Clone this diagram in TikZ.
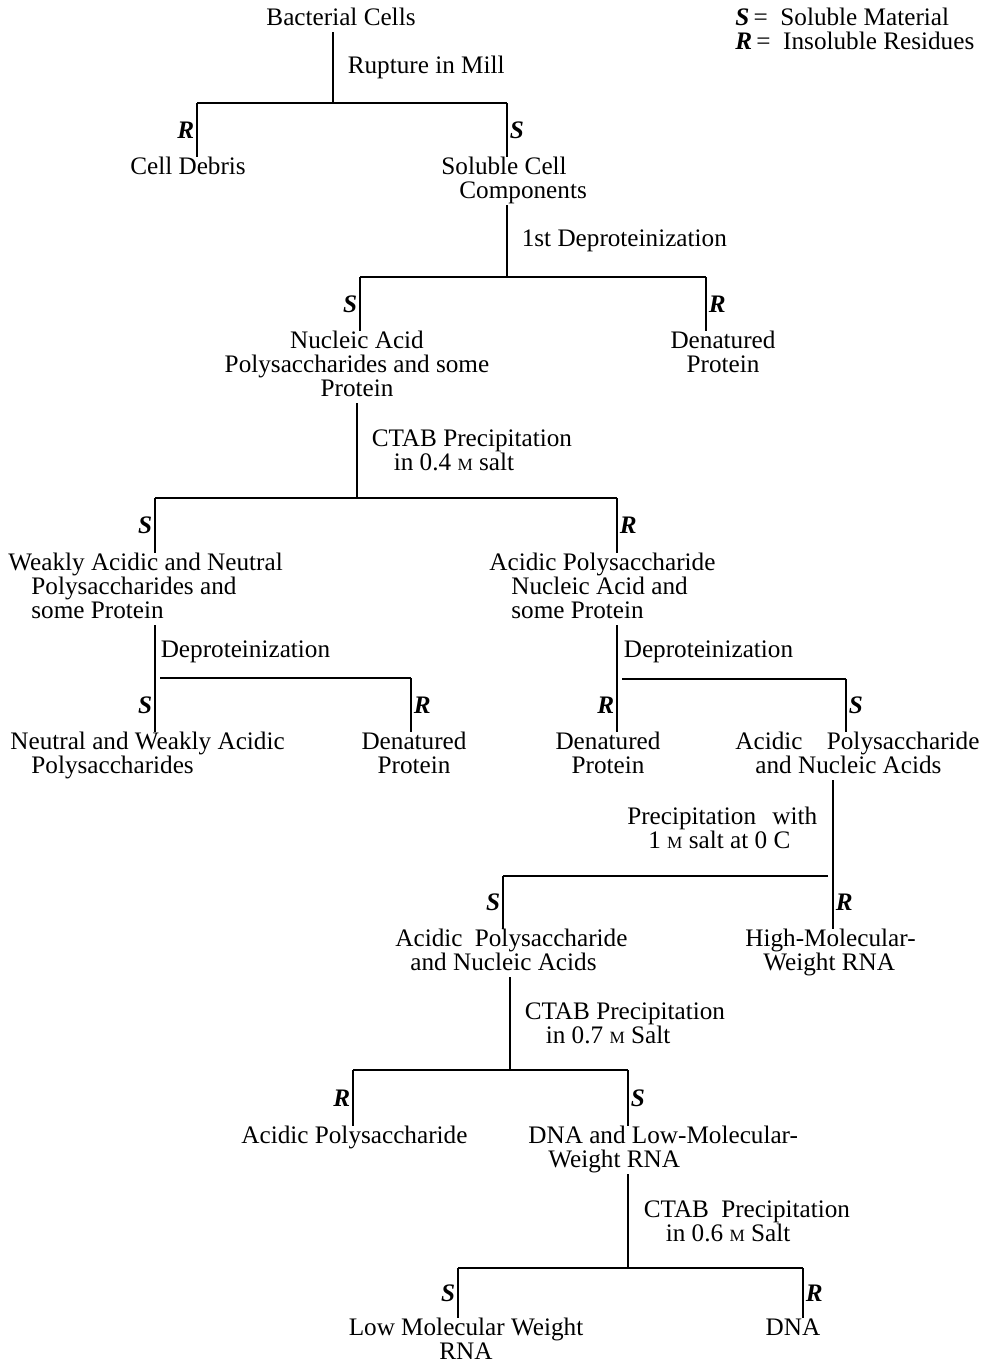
\documentclass[tikz,border=0pt]{standalone}
\usepackage{fontspec}
\setmainfont{Liberation Serif}
\usepackage{tikz}
\usetikzlibrary{positioning}
\newcommand{\mol}{{\fontsize{8.6pt}{10pt}\selectfont M}}
\newcommand{\fr}[1]{\textbf{\textit{#1}}}

\begin{document}
\begin{tikzpicture}[
  x=0.5pt, y=-0.5pt,
  font=\fontsize{12.6pt}{12pt}\selectfont,
  item/.style={inner sep=0pt, text depth=0.3em, align=center},
  itemleft/.style={inner sep=0pt, text depth=0.3em, align=left, anchor=north west},
  proc/.style={inner sep=0pt, align=left},
  tag/.style={inner sep=1pt, font=\fontsize{12.6pt}{12pt}\selectfont\bfseries\itshape},
  bar/.style={line width=0.8pt},
]
  \useasboundingbox (0,0) rectangle (993,1364);

  % Legend
  \node[itemleft] (legend) at (735,8) {\fr{S}\,=\ \ Soluble Material\\\fr{R}\,=\ \ Insoluble Residues};

  % Substances
  \node[item, anchor=north] (bact) at (341,8) {Bacterial Cells};
  \node[item, anchor=north] (debris) at (188,157) {Cell Debris};
  \node[itemleft] (solcomp) at (441,157) {Soluble Cell\\\hspace*{9pt}Components};
  \node[item, anchor=north] (nucprot) at (357,331) {Nucleic Acid\\Polysaccharides and some\\Protein};
  \node[item, anchor=north] (denat1) at (723,331) {Denatured\\Protein};
  \node[itemleft] (weakmix) at (8,553) {Weakly Acidic and Neutral\\\hspace*{11.5pt}Polysaccharides and\\\hspace*{11.5pt}some Protein};
  \node[itemleft] (acidmix) at (489,553) {Acidic Polysaccharide\\\hspace*{11pt}Nucleic Acid and\\\hspace*{11pt}some Protein};
  \node[itemleft] (neutral) at (10,732) {Neutral and Weakly Acidic\\\hspace*{10.5pt}Polysaccharides};
  \node[item, anchor=north] (denat2) at (414,732) {Denatured\\Protein};
  \node[item, anchor=north] (denat3) at (608,732) {Denatured\\Protein};
  \node[itemleft] (acidnuc1) at (735,732) {Acidic\hspace{9pt} Polysaccharide\\\hspace*{10pt}and Nucleic Acids};
  \node[itemleft] (acidnuc2) at (395,929) {Acidic\hspace{3pt} Polysaccharide\\\hspace*{7.5pt}and Nucleic Acids};
  \node[itemleft] (hmwrna) at (745,929) {High-Molecular-\\\hspace*{9pt}Weight RNA};
  \node[itemleft] (acidpoly) at (241,1126) {Acidic Polysaccharide};
  \node[itemleft] (dnalmw) at (528,1126) {DNA and Low-Molecular-\\\hspace*{10pt}Weight RNA};
  \node[item, anchor=north] (lmwrna) at (466,1318) {Low Molecular Weight\\RNA};
  \node[item, anchor=north] (dna) at (793,1318) {DNA};

  % Junctions
  \coordinate (j1) at (333,103);   \coordinate (j1l) at (197,103);  \coordinate (j1r) at (507,103);
  \coordinate (j2) at (507,277);   \coordinate (j2l) at (360,277);  \coordinate (j2r) at (706,277);
  \coordinate (j3) at (357,498);   \coordinate (j3l) at (155,498);  \coordinate (j3r) at (617,498);
  \coordinate (j4) at (155,678);   \coordinate (j4r) at (411,678);
  \coordinate (j5) at (617,679);   \coordinate (j5r) at (846,679);
  \coordinate (j6) at (833,876);   \coordinate (j6l) at (503,876);
  \coordinate (j7) at (510,1070);  \coordinate (j7l) at (353,1070); \coordinate (j7r) at (628,1070);
  \coordinate (j8) at (628,1268);  \coordinate (j8l) at (458,1268); \coordinate (j8r) at (803,1268);

  % Rupture
  \draw[bar] (bact.south -| j1) -- node[proc, right=7pt] (p1) {Rupture in Mill} (j1);
  \draw[bar] (j1l) -- (j1r);
  \draw[bar] (j1l) -- node[tag, left] (t1) {R} (debris.north -| j1l);
  \draw[bar] (j1r) -- node[tag, right] (t2) {S} (solcomp.north -| j1r);

  % 1st deproteinization
  \draw[bar] (solcomp.south -| j2) -- node[proc, right=7pt] (p2) {1st Deproteinization} (j2);
  \draw[bar] (j2l) -- (j2r);
  \draw[bar] (j2l) -- node[tag, left] (t3) {S} (nucprot.north -| j2l);
  \draw[bar] (j2r) -- node[tag, right] (t4) {R} (denat1.north -| j2r);

  % CTAB 0.4
  \draw[bar] (nucprot.south -| j3) -- node[proc, right=7pt] (p3) {CTAB Precipitation\\\hspace*{11pt}in 0.4 \mol{} salt} (j3);
  \draw[bar] (j3l) -- (j3r);
  \draw[bar] (j3l) -- node[tag, left] (t5) {S} (weakmix.north -| j3l);
  \draw[bar] (j3r) -- node[tag, right] (t6) {R} (acidmix.north -| j3r);

  % Left deproteinization
  \draw[bar] (weakmix.south -| j4) -- node[proc, right=2.5pt] (p4) {Deproteinization} (j4);
  \draw[bar] (j4) -- node[tag, left] (t7) {S} (neutral.north -| j4);
  \draw[bar] ([xshift=2.5pt]j4) -- (j4r);
  \draw[bar] (j4r) -- node[tag, right] (t8) {R} (denat2.north -| j4r);

  % Right deproteinization
  \draw[bar] (acidmix.south -| j5) -- node[proc, right=3pt] (p5) {Deproteinization} (j5);
  \draw[bar] (j5) -- node[tag, left] (t9) {R} (denat3.north -| j5);
  \draw[bar] ([xshift=2.5pt]j5) -- (j5r);
  \draw[bar] (j5r) -- node[tag, right] (t10) {S} (acidnuc1.north -| j5r);

  % 1 M salt at 0 C
  \draw[bar] (acidnuc1.south -| j6) -- node[proc, left=7.5pt] (p6) {Precipitation\hspace{5pt} with\\\hspace*{10.5pt}1 \mol{} salt at 0 C} (j6);
  \draw[bar] (j6) -- node[tag, right] (t11) {R} (hmwrna.north -| j6);
  \draw[bar] ([xshift=-2.5pt]j6) -- (j6l);
  \draw[bar] (j6l) -- node[tag, left] (t12) {S} (acidnuc2.north -| j6l);

  % CTAB 0.7
  \draw[bar] (acidnuc2.south -| j7) -- node[proc, right=7pt] (p7) {CTAB Precipitation\\\hspace*{10.5pt}in 0.7 \mol{} Salt} (j7);
  \draw[bar] (j7l) -- (j7r);
  \draw[bar] (j7l) -- node[tag, left] (t13) {R} (acidpoly.north -| j7l);
  \draw[bar] (j7r) -- node[tag, right] (t14) {S} (dnalmw.north -| j7r);

  % CTAB 0.6
  \draw[bar] (dnalmw.south -| j8) -- node[proc, right=7.5pt] (p8) {CTAB\hspace{3pt} Precipitation\\\hspace*{11pt}in 0.6 \mol{} Salt} (j8);
  \draw[bar] (j8l) -- (j8r);
  \draw[bar] (j8l) -- node[tag, left] (t15) {S} (lmwrna.north -| j8l);
  \draw[bar] (j8r) -- node[tag, right] (t16) {R} (dna.north -| j8r);
\end{tikzpicture}
\end{document}
